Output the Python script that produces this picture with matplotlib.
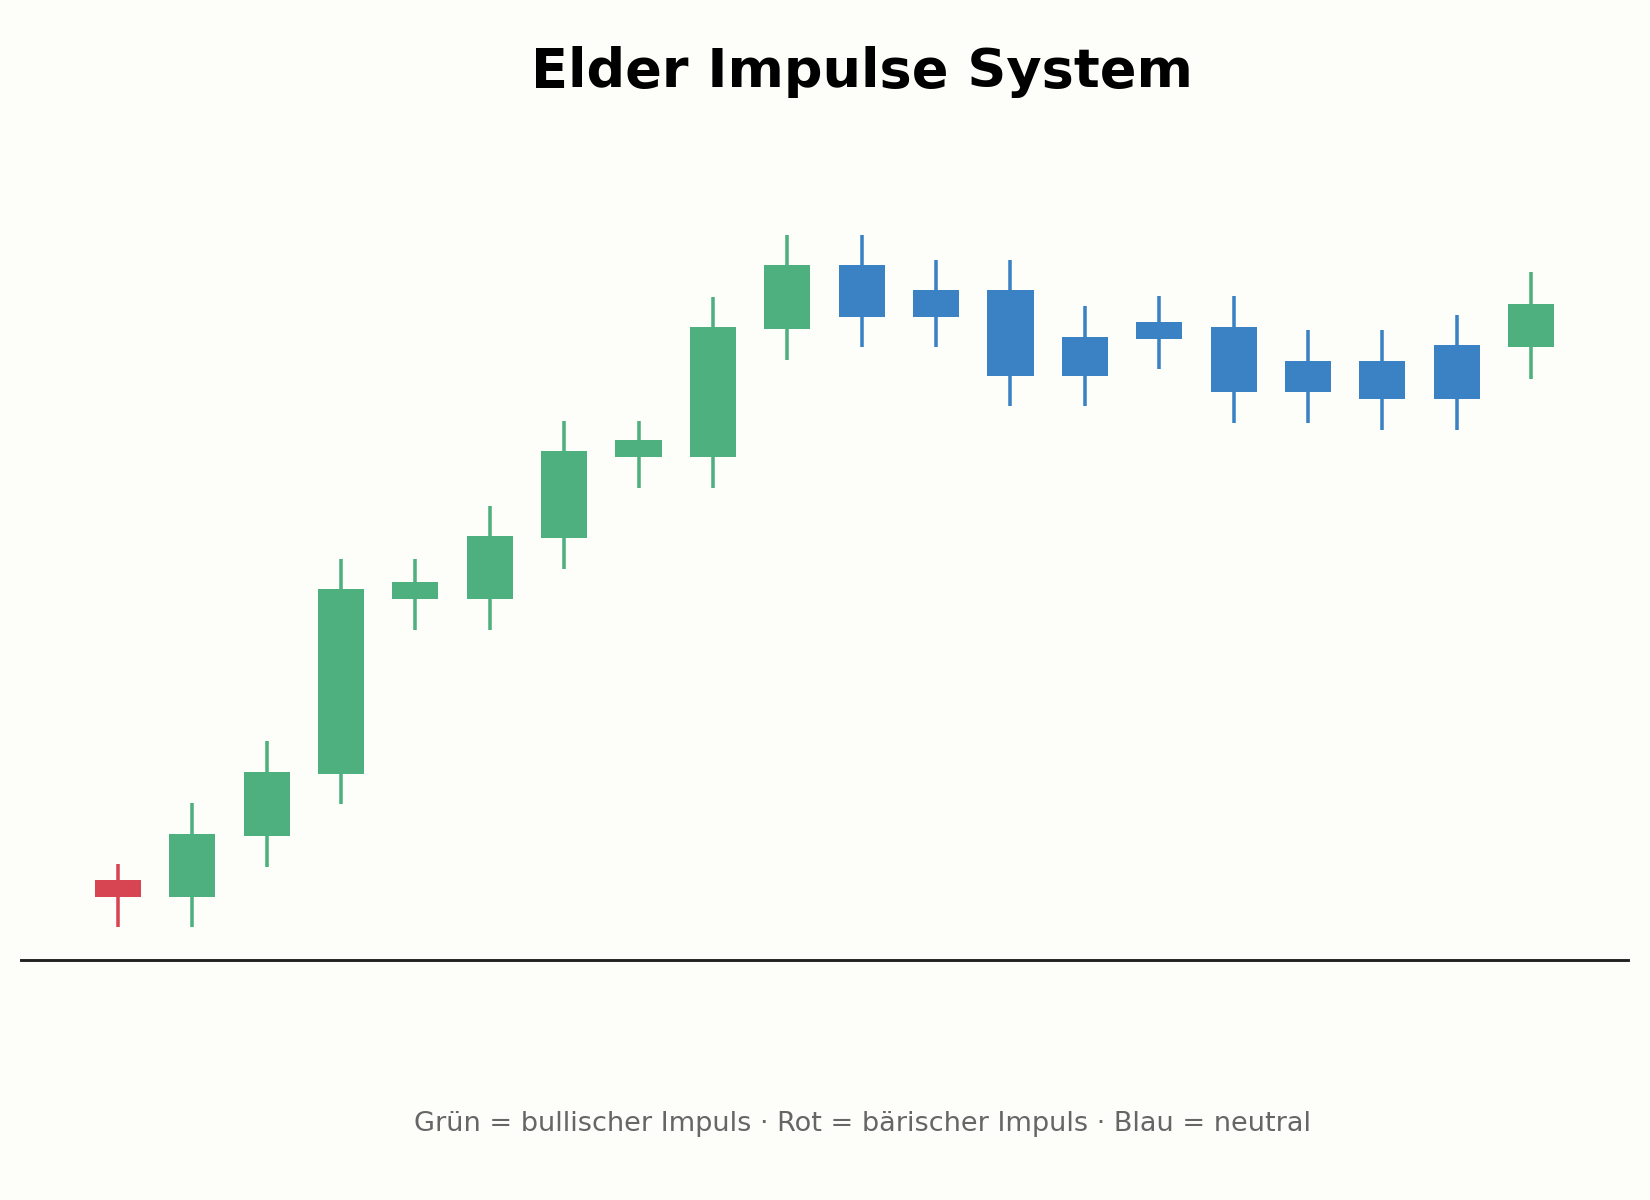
import numpy as np
import matplotlib
matplotlib.use("Agg")
import matplotlib.pyplot as plt

# candle data
opens  = [16.4, 14.8, 20.6, 26.5, 43.1, 43.1, 48.9, 56.6, 56.6, 68.7,
          74.8, 72.4, 72.4, 68.0, 69.4, 68.9, 65.7, 65.7, 67.2, 67.0]
closes = [14.8, 20.8, 26.7, 44.0, 44.7, 49.1, 57.1, 58.2, 68.9, 74.8,
          69.9, 69.9, 64.3, 64.3, 67.8, 62.7, 62.7, 62.1, 62.1, 71.1]
highs  = [17.9, 23.7, 29.6, 46.9, 46.9, 51.9, 60.0, 60.0, 71.8, 77.7,
          77.7, 75.3, 75.3, 70.9, 71.9, 71.9, 68.6, 68.6, 70.1, 74.1]
lows   = [11.9, 11.9, 17.6, 23.6, 40.1, 40.1, 45.9, 53.6, 53.6, 65.8,
          67.0, 67.0, 61.4, 61.4, 64.9, 59.8, 59.8, 59.1, 59.1, 64.0]
impulse = ["bear"] + ["bull"] * 9 + ["neutral"] * 9 + ["bull"]

colors = {"bull": "#4EB07E", "bear": "#D74552", "neutral": "#3B82C4"}
bg = "#FDFDF9"

fig = plt.figure(figsize=(11, 8), dpi=150, facecolor=bg)
ax = fig.add_axes([0.0128, 0.2, 0.9738, 0.68])
ax.set_facecolor(bg)

x = np.arange(len(opens))
o = np.array(opens)
c = np.array(closes)
bottoms = np.minimum(o, c)
heights = np.abs(c - o)
cols = [colors[k] for k in impulse]

ax.vlines(x, lows, highs, colors=cols, linewidth=1.7, zorder=2)
ax.bar(x, heights, width=0.62, bottom=bottoms, color=cols, zorder=3)

ax.set_xlim(-1.3, 20.3)
ax.set_ylim(8.8, 86.3)
for s in ["top", "right", "left"]:
    ax.spines[s].set_visible(False)
ax.spines["bottom"].set_color("#222222")
ax.spines["bottom"].set_linewidth(1.4)
ax.set_xticks([])
ax.set_yticks([])

fig.text(0.5225, 0.94, "Elder Impulse System", ha="center", va="center",
         fontsize=26, fontweight="bold", color="black")
fig.text(0.5225, 0.063, "Grün = bullischer Impuls · Rot = bärischer Impuls · Blau = neutral",
         ha="center", va="center", fontsize=13, color="#666666")

fig.savefig("out.png", dpi=150, facecolor=bg)
